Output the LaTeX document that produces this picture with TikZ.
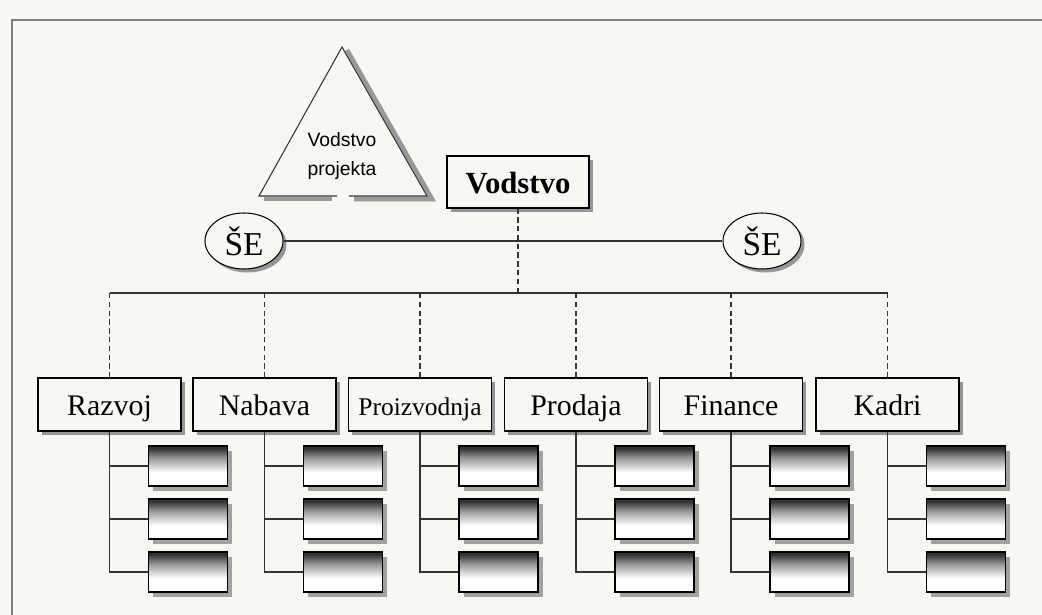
\documentclass[tikz,border=0pt]{standalone}
\usepackage{fontspec}
\setmainfont{Liberation Serif}
\newfontfamily\arialf{Liberation Sans}
\usetikzlibrary{shapes.geometric, shadows, calc}

\definecolor{paper}{RGB}{247,247,243}
\definecolor{rulegray}{RGB}{125,125,125}

\pgfdeclareverticalshading{subshade}{100bp}{color(0bp)=(white); color(25bp)=(white); color(42bp)=(white); color(60bp)=(black!40); color(72bp)=(black!80); color(100bp)=(black!80)}

\tikzset{
  link/.style={line width=0.6pt, black!80},
  dlink/.style={link, densely dashed},
  dept/.style={draw, fill=paper, line width=0.6pt, minimum width=2.86cm, minimum height=1.06cm, inner sep=0pt,
    text height=13pt, text depth=0pt,
    drop shadow={shadow xshift=2.2pt, shadow yshift=-2.2pt, fill=black!45, opacity=.9}},
  subbox/.style={draw, shading=subshade, line width=0.6pt, minimum width=1.58cm, minimum height=0.8cm, inner sep=0pt,
    drop shadow={shadow xshift=2.8pt, shadow yshift=-2.8pt, fill=black!40, opacity=.9}},
  sebox/.style={ellipse, draw, fill=paper, line width=0.6pt, minimum width=1.56cm, minimum height=1.12cm, inner sep=0pt,
    font=\fontsize{19}{22}\selectfont,
    drop shadow={shadow xshift=2pt, shadow yshift=-2pt, fill=black!45, opacity=.9}}
}

\begin{document}
\begin{tikzpicture}[x=0.02cm, y=-0.02cm]
    \fill[paper] (0,0) rectangle (1042,615);
    \useasboundingbox (0,0) rectangle (1042,615);

    % page frame
    \draw[rulegray, line width=1.2pt] (12,615) -- (12,20) -- (1042,20);

    % project management triangle
    \coordinate (T1) at (342,47);
    \coordinate (T2) at (259,196);
    \coordinate (T3) at (427,196);
    \draw[black!40, line width=2.6pt] ([shift={(5,3)}]T1) -- ([shift={(5,3)}]T3) -- (354,199);
    \draw[black!40, line width=2.6pt] (332,199) -- ([shift={(5,3)}]T2);
    \fill[paper] (T1) -- (T2) -- (T3) -- cycle;
    \draw[link] (337,196) -- (T2) -- (T1) -- (T3) -- (349,196);
    \node[font=\arialf\fontsize{11}{16.5}\selectfont, align=center] (vp) at (342,156) {Vodstvo\\projekta};

    % top management
    \node[dept, minimum width=2.84cm, minimum height=1.04cm, font=\bfseries\fontsize{17.5}{20}\selectfont] (vod) at (518,182) {Vodstvo};

    \node[sebox] (seL) at (244,241) {ŠE};
    \node[sebox] (seR) at (762,241) {ŠE};
    \draw[link] (seL.east) -- (seR.west);

    \coordinate (busL) at (109.5,293);
    \coordinate (busR) at (887.5,293);
    \draw[link] (busL) -- (busR);
    \draw[dlink] (vod.south) -- (vod.south |- busL);

    % departments with their units
    \foreach \nm/\cx/\lbl/\fs in {razvoj/109.5/Razvoj/17, nabava/264.5/Nabava/17, proizv/420/Proizvodnja/14.5,
                                  prodaja/576/Prodaja/17, finance/731/Finance/17, kadri/887.5/Kadri/17}{
        \node[dept, font=\fontsize{\fs}{\fs}\selectfont] (\nm) at (\cx,404.5) {\lbl};
        \draw[dlink] (\nm.north) -- (\nm.north |- busL);
        \foreach \k/\y in {1/466, 2/519, 3/572}
            \node[subbox] (\nm-\k) at (\cx+78.5,\y) {};
        \draw[link] (\nm.south) |- (\nm-3.west);
        \draw[link] (\nm-1.west) -- (\nm-1.west -| \nm.south);
        \draw[link] (\nm-2.west) -- (\nm-2.west -| \nm.south);
    }
\end{tikzpicture}
\end{document}
